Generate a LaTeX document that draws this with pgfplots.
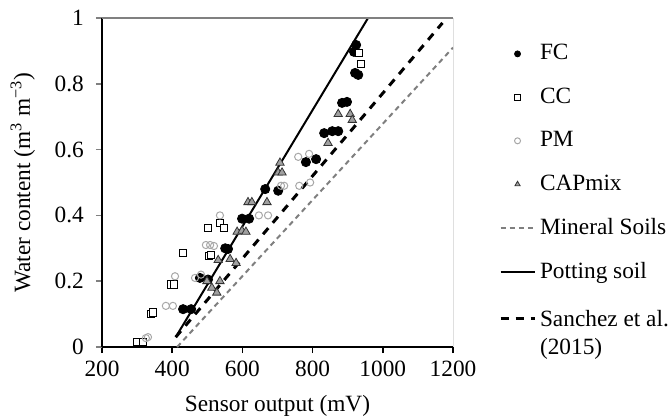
\documentclass[border=0pt]{standalone}
\usepackage{fontspec}
\setmainfont{Liberation Serif}
\usepackage{pgfplots}
\pgfplotsset{compat=1.18}
\definecolor{capgray}{HTML}{A0A0A0}
\definecolor{pmgray}{HTML}{A8A8A8}
\definecolor{mingray}{HTML}{7F7F7F}
\begin{document}
\fontsize{11.7}{14}\selectfont
\begin{tikzpicture}
\begin{axis}[
    scale only axis, width=175.5bp, height=164.5bp,
    xmin=200, xmax=1200, ymin=0, ymax=1,
    xtick={200,400,600,800,1000,1200},
    ytick={0,0.2,0.4,0.6,0.8,1},
    /pgf/number format/assume math mode=true,
    /pgf/number format/1000 sep={},
    axis lines=left,
    axis line style={line width=1bp, -},
    tick align=outside,
    major tick length=3bp,
    xtick style={black, line width=0.8bp},
    ytick style={gray, line width=0.8bp},
    yticklabel style={xshift=-2bp},
    xlabel={Sensor output (mV)},
    ylabel={Water content (m\textsuperscript{3} m\textsuperscript{−3})},
    xlabel style={at={(axis description cs:0.5,0)}, anchor=base, yshift=-32bp},
    ylabel style={at={(axis description cs:0,0.5)}, anchor=base, yshift=36bp},
    legend style={at={(axis description cs:1.13,0.933)}, anchor=north west,
        draw=none, fill=none, row sep=8.3bp, inner sep=0pt},
    legend cell align=left,
    legend image post style={mark size=1.5bp},
]
\addplot[only marks, mark=*, mark size=2.3bp, black] coordinates {
    (431,0.115)(454,0.115)
    (479,0.21)(502,0.205)
    (551,0.30)(559,0.298)
    (599,0.39)(619,0.39)
    (665,0.48)(702,0.475)
    (781,0.562)(810,0.571)
    (833,0.65)(856,0.656)(873,0.656)
    (884,0.742)(898,0.745)
    (921,0.833)(930,0.827)
    (918,0.897)(924,0.918)
};
\addlegendentry{FC}
\addplot[only marks, mark=square*, mark size=1.8bp, draw=black, fill=white, line width=0.5bp] coordinates {
    (300,0.015)(317,0.015)
    (340,0.10)(345,0.105)
    (398,0.19)(404,0.19)
    (431,0.285)
    (505,0.277)(510,0.28)
    (502,0.362)(536,0.377)(548,0.362)
    (933,0.894)(938,0.86)
};
\addlegendentry{CC}
\addplot[only marks, mark=o, mark size=1.8bp, pmgray, line width=0.5bp] coordinates {
    (325,0.027)(331,0.03)
    (382,0.125)(402,0.125)
    (408,0.215)
    (465,0.21)(482,0.22)
    (496,0.31)(508,0.31)(519,0.307)
    (536,0.40)
    (647,0.40)(673,0.40)
    (710,0.49)(719,0.49)
    (762,0.49)(793,0.50)
    (759,0.578)(790,0.587)
};
\addlegendentry{PM}
\addplot[only marks, mark=triangle*, mark size=2.4bp, draw=black!80, fill=capgray, line width=0.4bp] coordinates {
    (499,0.20)(513,0.18)(527,0.165)(536,0.20)
    (531,0.264)(565,0.267)(582,0.255)
    (585,0.35)(599,0.353)(610,0.35)
    (616,0.44)(627,0.44)(670,0.44)
    (702,0.53)(713,0.53)(707,0.56)
    (844,0.62)
    (873,0.708)(907,0.708)(913,0.69)
};
\addlegendentry{CAPmix}
\addplot[mingray, line width=1bp, dash pattern=on 2.6bp off 2bp] coordinates {
    (414,0) (1200,0.91)
};
\addlegendentry{Mineral Soils}
\addplot[black, line width=1bp] coordinates {
    (410,0.03) (958,1)
};
\addlegendentry{Potting soil}
\addplot[black, line width=1.5bp, dash pattern=on 4bp off 3.5bp] coordinates {
    (410,0.03) (1170,0.985)
};
\addlegendentry{\begin{tabular}[t]{@{}l@{}}Sanchez et al.\\(2015)\end{tabular}}
\draw[gray, line width=0.8bp] (rel axis cs:0,1) -- (rel axis cs:1,1);
\draw[black, line width=0.5bp] (rel axis cs:1,1) -- (rel axis cs:1,0);
\end{axis}
\pgfresetboundingbox
\path[use as bounding box] (current axis.south west) ++(-51bp,-36bp) rectangle ++(334bp,209.5bp);
\end{tikzpicture}
\end{document}
